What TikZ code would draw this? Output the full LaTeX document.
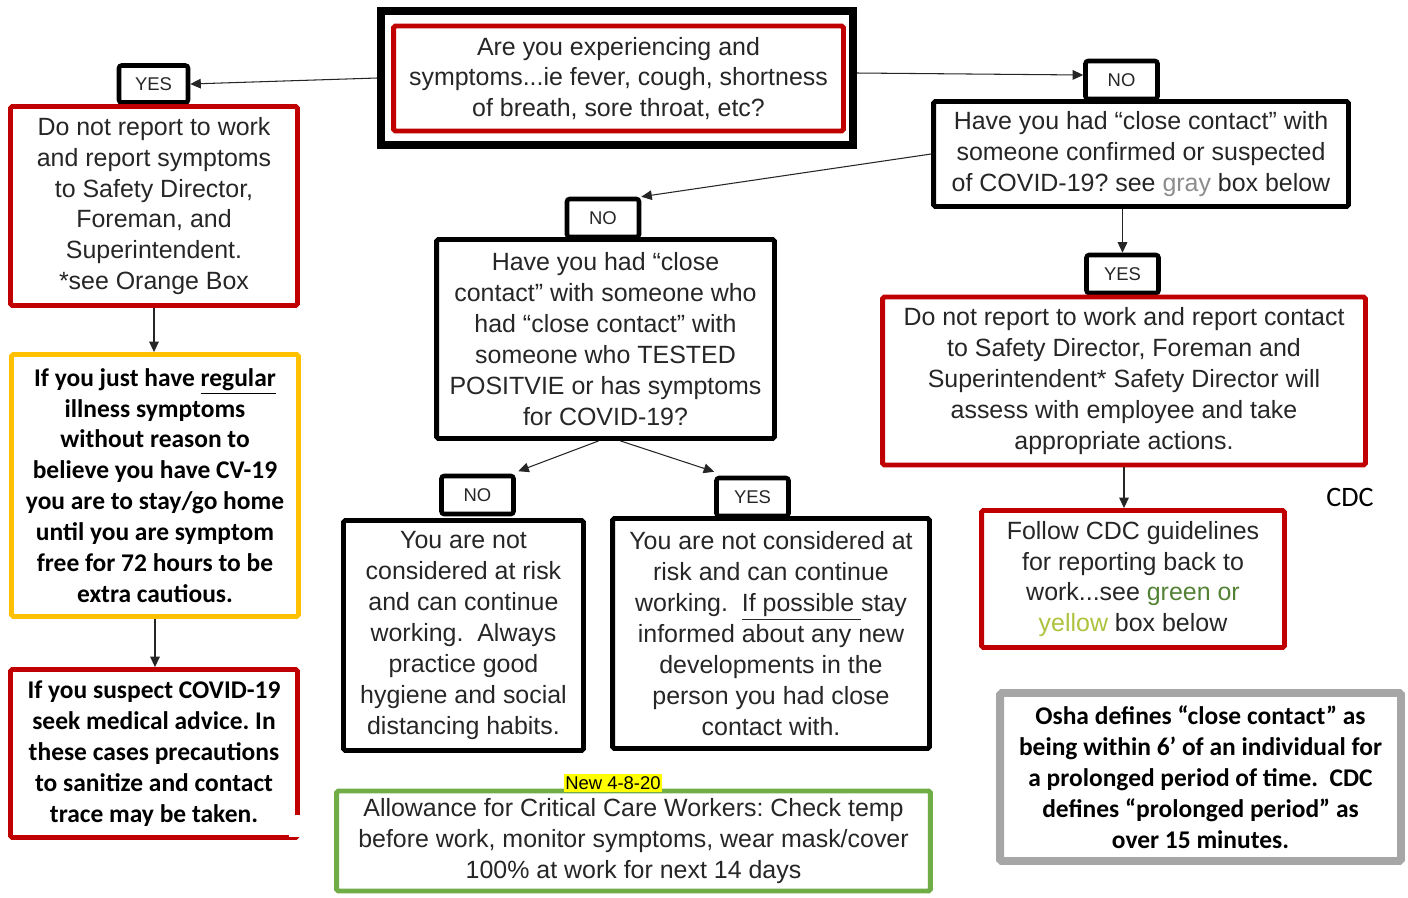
\documentclass[tikz,border=0pt]{standalone}
\usepackage{fontspec}
\setmainfont{Liberation Sans}
\newfontfamily\calibri{Carlito}
\usetikzlibrary{positioning,calc,arrows.meta}

\definecolor{boxred}{HTML}{C00000}
\definecolor{boxorange}{HTML}{FFC000}
\definecolor{boxgreen}{HTML}{70AD47}
\definecolor{boxgray}{HTML}{A6A6A6}
\definecolor{txtgray}{HTML}{8C8C8C}
\definecolor{txtgreen}{HTML}{548235}
\definecolor{txtyellow}{HTML}{AFC23D}
\definecolor{hilite}{HTML}{FFFF00}
\frenchspacing

\begin{document}
\begin{tikzpicture}[
					x=0.02cm, y=-0.02cm,
					every node/.style={
						inner sep=0pt, align=center, text=black!85
					},
					tag/.style={
						draw=black, fill=white, line width=2.6pt,
						rounded corners=1.5pt, minimum width=1.44cm, minimum height=0.76cm,
						font=\fontsize{10.5}{12}\selectfont
					},
					qbox/.style={
						draw=black, fill=white, line width=2.8pt, rounded corners=1pt,
						font=\fontsize{14.2}{17.6}\selectfont
					},
					redbox/.style={qbox, draw=boxred},
					notebox/.style={
						draw, fill=white, line width=2.8pt, rounded corners=1pt,
						font=\calibri\bfseries\fontsize{14.5}{17.6}\selectfont, text=black
					},
					arr/.style={
						draw=black!85, line width=0.6pt, -{Triangle[length=6pt,width=5.5pt]}
					}
					]
					\useasboundingbox (0,0) rectangle (1408,897);
					
					% answer tags (drawn first, the boxes cover their lower edge)
					\node[tag, minimum width=1.38cm, minimum height=0.74cm] (yes1) at (153.5,84) {YES};
					\node[tag] (no1) at (1121.5,80) {NO};
					\node[tag] (no2) at (603,218) {NO};
					\node[tag] (no3) at (477.5,495) {NO};
					\node[tag] (yes3) at (752.5,497) {YES};
					\node[tag] (yes2) at (1122.5,274) {YES};
					
					% first question
					\node[draw=black, fill=white, line width=4.5pt, minimum width=9.44cm, minimum height=2.68cm] (q1out) at (617,78) {};
					\node[redbox, minimum width=9cm, minimum height=2.1cm] (q1) at (618.5,78.5) {Are you experiencing and\\symptoms...ie fever, cough, shortness\\of breath, sore throat, etc?};
					
					% left column
					\node[redbox, minimum width=5.74cm, minimum height=3.98cm] (r1) at (154,206) {Do not report to work\\and report symptoms\\to Safety Director,\\Foreman, and\\Superintendent.\\*see Orange Box};
					\node[notebox, draw=boxorange, minimum width=5.74cm, minimum height=5.24cm] (home) at (155,485.5) {If you just have \underline{regular}\\illness symptoms\\without reason to\\believe you have CV-19\\you are to stay/go home\\until you are symptom\\free for 72 hours to be\\extra cautious.};
					\node[notebox, draw=boxred, minimum width=5.74cm, minimum height=3.36cm] (r2) at (154,753.5) {If you suspect COVID-19\\seek medical advice. In\\these cases precautions\\to sanitize and contact\\trace may be taken.};
					\fill[white] (289,815) rectangle (304,837);
					
					% second and third question
					\node[qbox, minimum width=8.3cm, minimum height=2.1cm] (q2) at (1141,154) {Have you had “close contact” with\\someone confirmed or suspected\\of COVID-19? see \textcolor{txtgray}{gray} box below};
					\node[qbox, minimum width=6.76cm, minimum height=3.98cm] (q3) at (605.5,339) {Have you had “close\\contact” with someone who\\had “close contact” with\\someone who TESTED\\POSITVIE or has symptoms\\for COVID-19?};
					\node[qbox, minimum width=4.8cm, minimum height=4.6cm] (a1) at (463.5,635.5) {You are not\\considered at risk\\and can continue\\working.~ Always\\practice good\\hygiene and social\\distancing habits.};
					\node[qbox, minimum width=6.34cm, minimum height=4.6cm] (a2) at (771,633.5) {You are not considered at\\risk and can continue\\working.~ \underline{If possible }stay\\informed about any new\\developments in the\\person you had close\\contact with.};
					
					% right column
					\node[redbox, minimum width=9.66cm, minimum height=3.36cm] (r3) at (1124,381) {Do not report to work and report contact\\to Safety Director, Foreman and\\Superintendent* Safety Director will\\assess with employee and take\\appropriate actions.};
					\node[redbox, minimum width=6.06cm, minimum height=2.74cm] (r4) at (1133,579) {Follow CDC guidelines\\for reporting back to\\work...see \textcolor{txtgreen}{green or}\\\textcolor{txtyellow}{yellow} box below};
					\node[font=\calibri\fontsize{16}{18}\selectfont, text=black] (cdc) at (1350,497) {CDC};
					\node[notebox, draw=boxgray, line width=4.5pt, minimum width=8.02cm, minimum height=3.36cm] (osha) at (1200.5,777) {Osha defines “close contact” as\\being within 6’ of an individual for\\a prolonged period of time.~ CDC\\defines “prolonged period” as\\over 15 minutes.};
					
					% critical care note
					\node[qbox, draw=boxgreen, minimum width=11.88cm, minimum height=2cm] (care) at (633.5,841) {Allowance for Critical Care Workers: Check temp\\before work, monitor symptoms, wear mask/cover\\100\% at work for next 14 days};
					\node[fill=hilite, inner xsep=0.5pt, inner ysep=1.5pt, font=\fontsize{10.5}{12}\selectfont, text=black] (new) at (613,783) {New 4-8-20};
					
					% connectors
					\draw[arr] (q1out.west) -- (yes1.east);
					\draw[arr] ([yshift=0.1cm]q1out.east) -- ([yshift=0.1cm]no1.west);
					\draw[arr] (r1.south) -- (home.north -| r1.south);
					\draw[arr] (home.south) -- (r2.north -| home.south);
					\draw[arr] (q2.west) -- (no2.north east);
					\draw[arr] ([xshift=-0.14cm]q3.south) -- ([xshift=0.05cm,yshift=0.05cm]no3.north east);
					\draw[arr] ([xshift=0.3cm]q3.south) -- ([yshift=0.08cm]yes3.north west);
					\draw[arr] (yes2.north |- q2.south) -- (yes2.north);
					\draw[arr] (r3.south) -- (r3.south |- r4.north);
				\end{tikzpicture}
\end{document}
